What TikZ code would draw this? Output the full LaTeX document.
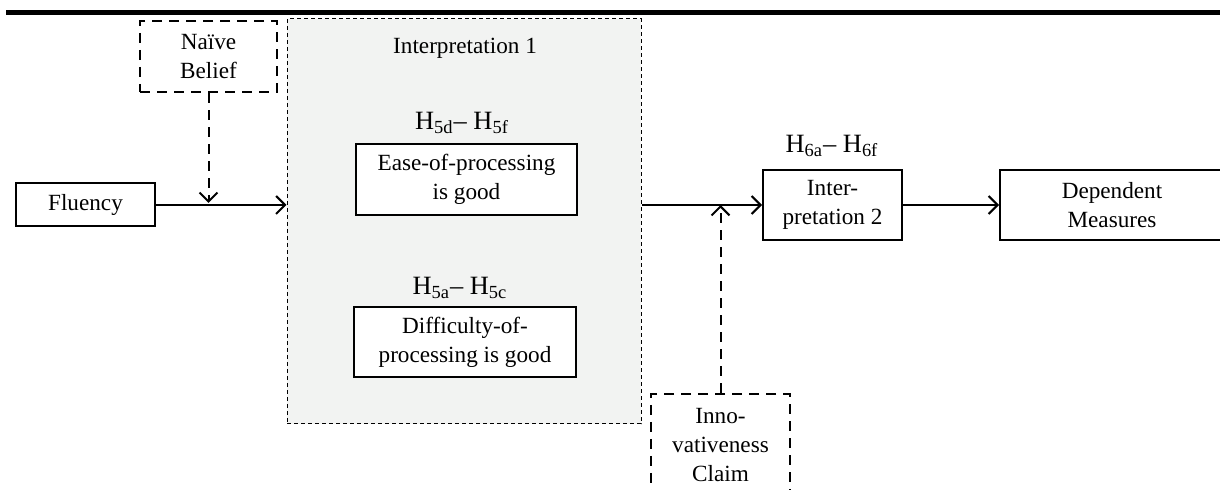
\documentclass[tikz,border=0pt]{standalone}
\usepackage{fontspec}
\setmainfont{Liberation Serif}
\usetikzlibrary{arrows.meta}
\definecolor{panelgray}{RGB}{242,243,242}
\tikzset{
  every node/.style={font=\fontsize{11.6pt}{14.5pt}\selectfont},
  box/.style={draw, line width=1pt, align=center, inner sep=0pt},
  dbox/.style={draw, line width=1.3pt, dash pattern=on 5pt off 3.5pt, align=center, inner sep=0pt},
  panel/.style={draw, fill=panelgray, line width=0.5pt, dash pattern=on 2pt off 1.5pt, inner sep=0pt},
  lbl/.style={inner sep=0pt, align=center},
  hyp/.style={inner sep=0pt, align=center, font=\fontsize{13.2pt}{15pt}\selectfont},
  conn/.style={line width=1pt, -{Straight Barb[length=4.5pt,width=9pt,line width=1pt]}},
  dconn/.style={conn, dash pattern=on 5pt off 3.5pt}
}
\begin{document}
\begin{tikzpicture}[x=0.5pt,y=-0.5pt]
\clip (0,0) rectangle (1220,490);
\fill[white] (0,0) rectangle (1220,490);
% top rule
\draw[line width=2.6pt] (6,12.5) -- (1220,12.5);
% panel
\node[panel, minimum width=177pt, minimum height=202.5pt] (int1) at (464,221.5) {};
\node[lbl] (int1t) at (465,48) {Interpretation 1};
\node[hyp] (h5d) at (462,123) {H\textsubscript{5d}– H\textsubscript{5f}};
\node[box, fill=white, minimum width=110.5pt, minimum height=35.5pt] (ease) at (466.5,179.5) {Ease-of-processing\\is good};
\node[hyp] (h5a) at (460,288) {H\textsubscript{5a}– H\textsubscript{5c}};
\node[box, fill=white, minimum width=111pt, minimum height=35pt] (diff) at (465,342) {Difficulty-of-\\processing is good};
% left part
\node[box, minimum width=69.5pt, minimum height=21.5pt] (flu) at (85.5,205) {Fluency};
\node[dbox, minimum width=68.5pt, minimum height=35.5pt] (nai) at (208.5,56.5) {Naïve\\Belief};
% right part
\node[box, minimum width=69.5pt, minimum height=35pt] (int2) at (832.5,205) {Inter-\\pretation 2};
\node[hyp] (h6) at (832,146) {H\textsubscript{6a}– H\textsubscript{6f}};
\node[box, minimum width=112pt, minimum height=35pt] (dep) at (1112,205) {Dependent\\Measures};
\node[dbox, minimum width=69.5pt, minimum height=51pt] (inn) at (720.5,445) {Inno-\\vativeness\\Claim};
% connectors
\draw[conn] (flu.east) -- (int1.west |- flu.east);
\draw[dconn, shorten >=1pt] (nai.south) -- (nai.south |- flu.east);
\draw[conn] (int1.east |- int2.west) -- (int2.west);
\draw[conn] (int2.east) -- (dep.west);
\draw[dconn] (inn.north) -- (inn.north |- int2.west);
\end{tikzpicture}
\end{document}
